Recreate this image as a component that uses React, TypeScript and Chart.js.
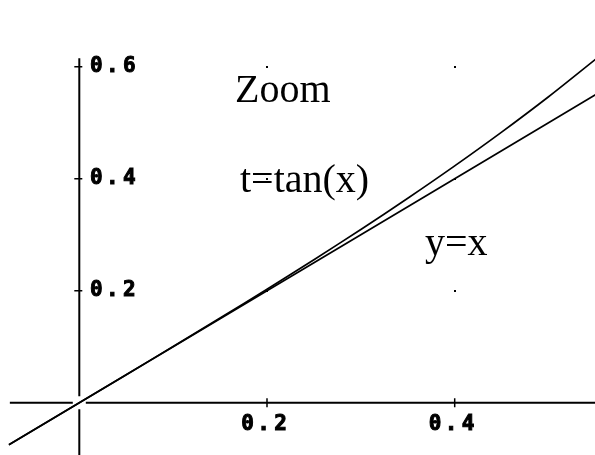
import React, { useEffect, useRef } from "react";
import { Chart, registerables } from "chart.js";

Chart.register(...registerables);

// Visible window of the plot, in data units
const X_MIN = -0.0845;
const X_MAX = 0.5495;
const Y_MIN = -0.0934;
const Y_MAX = 0.719;

// Sample abscissae and the two curves
const xValues = [-0.075, 0, 0.05, 0.1, 0.15, 0.2, 0.25, 0.3, 0.35, 0.4, 0.45, 0.5, 0.55];
const identityY = [-0.075, 0, 0.05, 0.1, 0.15, 0.2, 0.25, 0.3, 0.35, 0.4, 0.45, 0.5, 0.55];
const tanY = [-0.0751, 0, 0.05, 0.1003, 0.1511, 0.2027, 0.2553, 0.3093, 0.365, 0.4228, 0.4831, 0.5463, 0.6131];

// Axis ticks and labels
const xTicks = [0.2, 0.4];
const xTickLabels = ["0.2", "0.4"];
const yTicks = [0.2, 0.4, 0.6];
const yTickLabels = ["0.2", "0.4", "0.6"];

// Grid dots
const dotXs = [0.2, 0.4];
const dotYs = [0.2, 0.4, 0.6];

// Text annotations
const noteTexts = ["Zoom", "t=tan(x)", "y=x"];
const noteXs = [0.1659, 0.1712, 0.3684];
const noteYs = [0.5368, 0.3763, 0.2638];

// Axis extents
const X_AXIS_FROM = -0.074;
const Y_AXIS_TO = 0.615;

const TICK_FONT = "bold 21px 'DejaVu Sans Mono', monospace";
const NOTE_FONT = "40px 'Liberation Serif', 'Times New Roman', serif";
const CHAR_OFFSETS = [0, 16, 33];

function drawTickLabel(ctx: CanvasRenderingContext2D, text: string, firstCenterX: number, cy: number) {
  ctx.font = TICK_FONT;
  ctx.textAlign = "center";
  ctx.textBaseline = "middle";
  ctx.fillStyle = "#000";
  ctx.strokeStyle = "#000";
  ctx.lineWidth = 1;
  for (let i = 0; i < text.length; i++) {
    ctx.fillText(text[i], firstCenterX + CHAR_OFFSETS[i], cy);
    ctx.strokeText(text[i], firstCenterX + CHAR_OFFSETS[i], cy);
  }
}

const axesOverlay = {
  id: "axesOverlay",
  beforeDatasetsDraw(chart: any) {
    const { ctx, scales } = chart;
    const xs = scales.x;
    const ys = scales.y;
    const ox = xs.getPixelForValue(0);
    const oy = ys.getPixelForValue(0);
    const gap = 6.5;
    ctx.save();
    ctx.strokeStyle = "#000";
    ctx.lineWidth = 2;
    ctx.beginPath();
    // horizontal axis, broken around the origin
    ctx.moveTo(xs.getPixelForValue(X_AXIS_FROM), oy);
    ctx.lineTo(ox - gap, oy);
    ctx.moveTo(ox + gap, oy);
    ctx.lineTo(chart.width, oy);
    // vertical axis
    ctx.moveTo(ox, ys.getPixelForValue(Y_AXIS_TO));
    ctx.lineTo(ox, oy - gap);
    ctx.moveTo(ox, oy + gap);
    ctx.lineTo(ox, chart.height);
    ctx.stroke();

    ctx.lineWidth = 1.5;
    ctx.beginPath();
    xTicks.forEach((v) => {
      const px = xs.getPixelForValue(v);
      ctx.moveTo(px, oy - 4.5);
      ctx.lineTo(px, oy + 4.5);
    });
    yTicks.forEach((v) => {
      const py = ys.getPixelForValue(v);
      ctx.moveTo(ox - 5, py);
      ctx.lineTo(ox + 3, py);
    });
    ctx.stroke();

    xTicks.forEach((v, i) => {
      const px = xs.getPixelForValue(v);
      drawTickLabel(ctx, xTickLabels[i], px - 19.5, oy + 22);
    });
    yTicks.forEach((v, i) => {
      const py = ys.getPixelForValue(v);
      drawTickLabel(ctx, yTickLabels[i], ox + 17, py);
    });

    ctx.fillStyle = "#000";
    dotXs.forEach((dx) => {
      dotYs.forEach((dy) => {
        const px = xs.getPixelForValue(dx);
        const py = ys.getPixelForValue(dy);
        ctx.fillRect(Math.round(px) - 1, Math.round(py) - 1, 2, 2);
      });
    });

    ctx.font = NOTE_FONT;
    ctx.textAlign = "left";
    ctx.textBaseline = "alphabetic";
    noteTexts.forEach((t, i) => {
      ctx.fillText(t, xs.getPixelForValue(noteXs[i]), ys.getPixelForValue(noteYs[i]));
    });
    ctx.restore();
  },
};

export default function App() {
  const canvasRef = useRef<HTMLCanvasElement | null>(null);

  useEffect(() => {
    const canvas = canvasRef.current;
    if (!canvas) return;
    const chart = new Chart(canvas, {
      type: "line",
      data: {
        datasets: [
          {
            label: "y=x",
            data: xValues.map((x, i) => ({ x, y: identityY[i] })),
            borderColor: "#000",
            borderWidth: 1.7,
            pointRadius: 0,
            tension: 0,
          },
          {
            label: "t=tan(x)",
            data: xValues.map((x, i) => ({ x, y: tanY[i] })),
            borderColor: "#000",
            borderWidth: 1.7,
            pointRadius: 0,
            tension: 0.3,
          },
        ],
      },
      options: {
        responsive: false,
        animation: false,
        devicePixelRatio: 1,
        layout: { padding: 0 },
        plugins: {
          legend: { display: false },
          tooltip: { enabled: false },
        },
        scales: {
          x: { type: "linear", min: X_MIN, max: X_MAX, display: false },
          y: { type: "linear", min: Y_MIN, max: Y_MAX, display: false },
        },
      },
      plugins: [axesOverlay],
    });
    return () => chart.destroy();
  }, []);

  return (
    <div style={{ position: "fixed", left: 0, top: 0, width: 595, height: 455, background: "#fff" }}>
      <canvas ref={canvasRef} width={595} height={455} style={{ width: 595, height: 455 }} />
    </div>
  );
}
